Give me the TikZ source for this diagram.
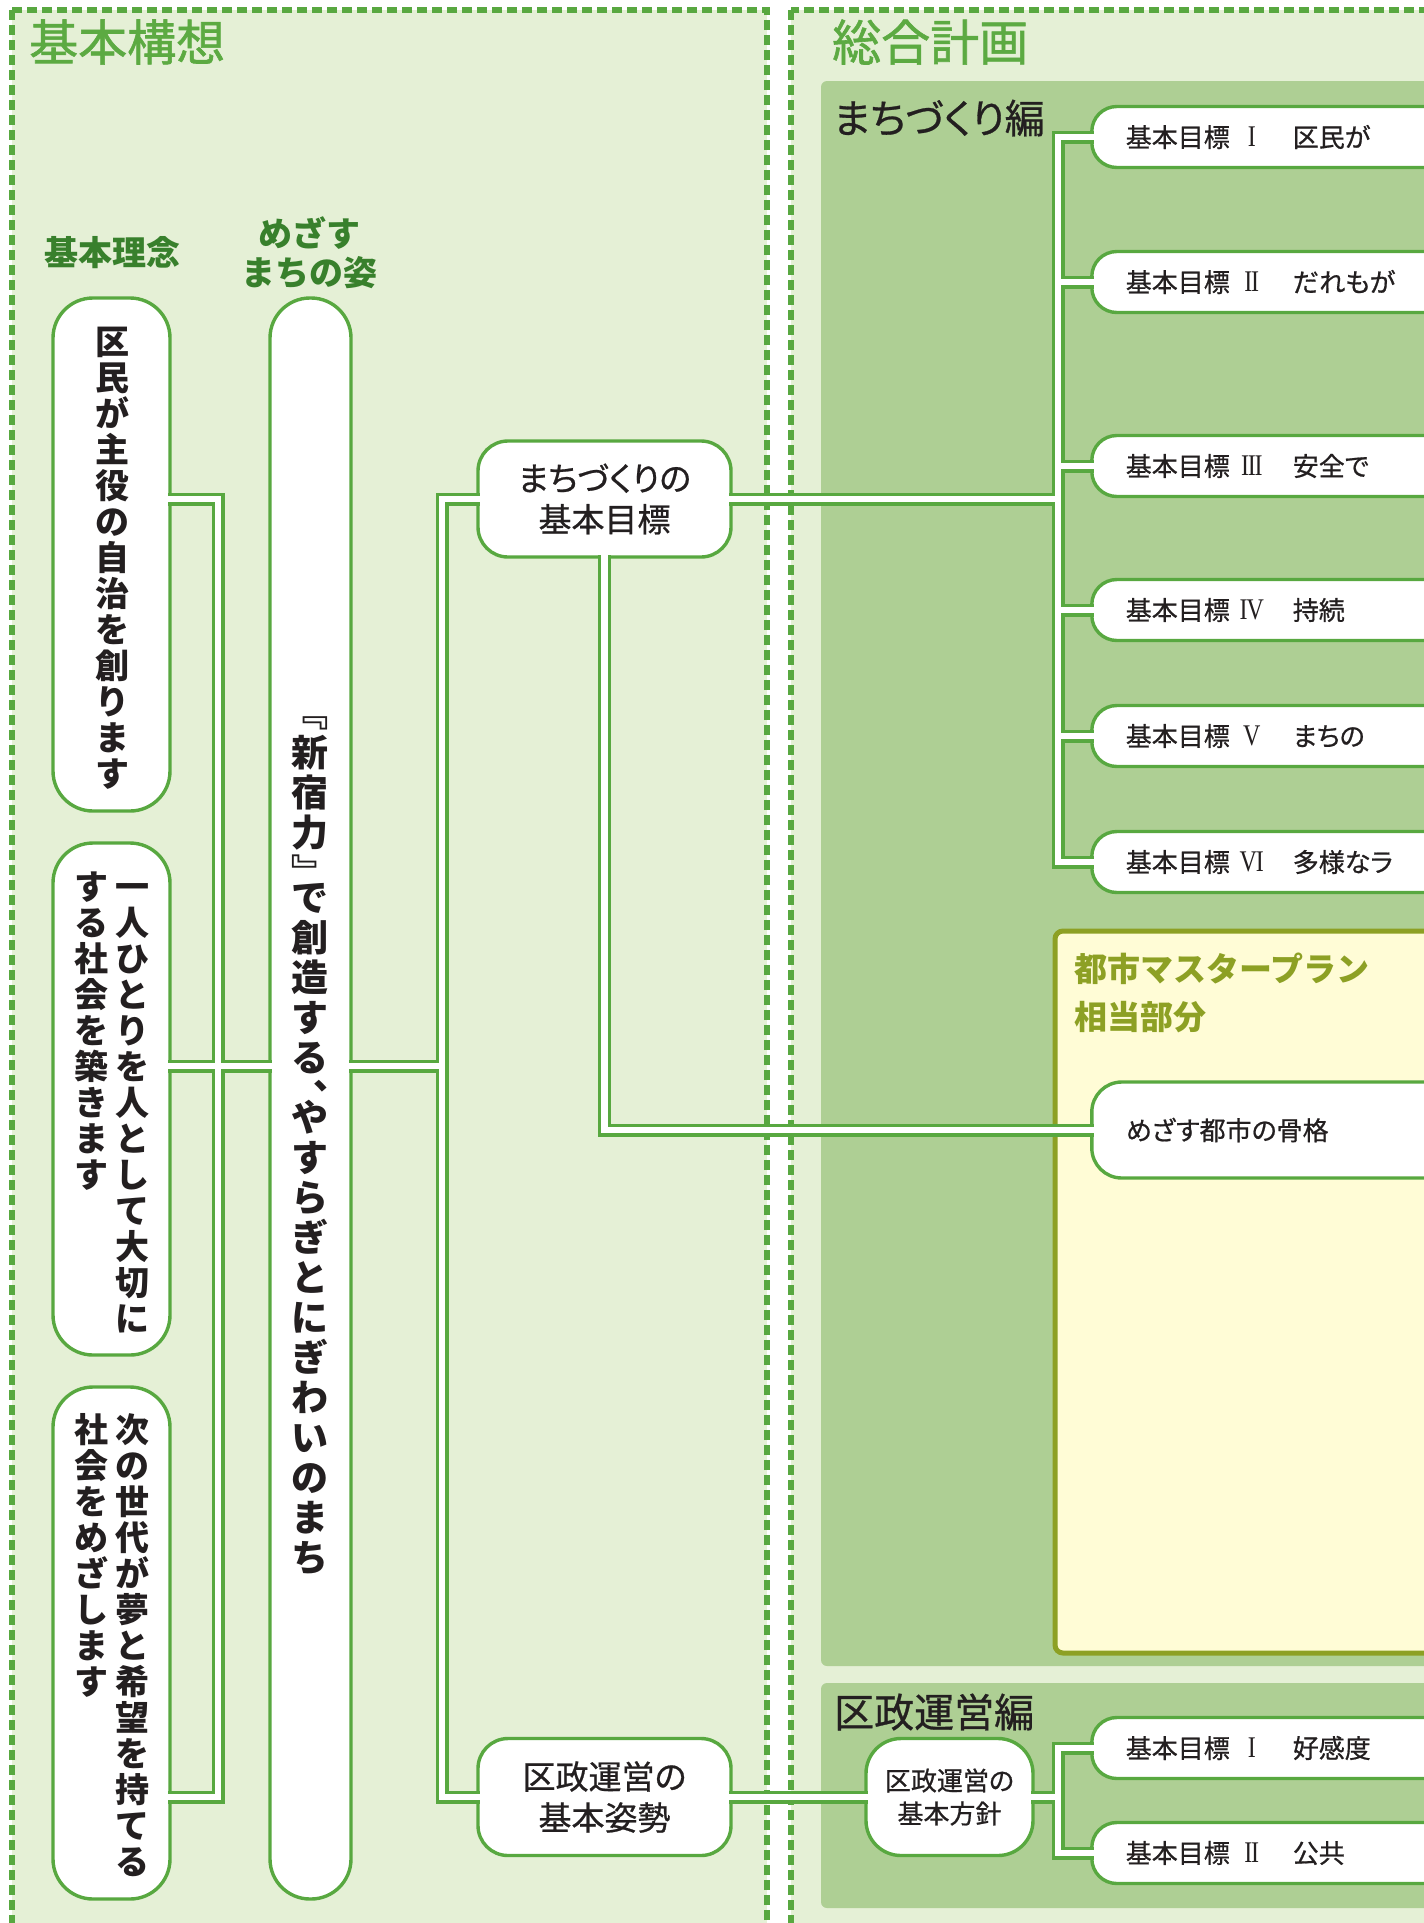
\documentclass[tikz,border=0pt]{standalone}
\usepackage{fontspec}
\usepackage{graphicx}
\setmainfont{Noto Sans CJK JP}
\newfontfamily\jpp[RawFeature=+palt]{Noto Sans CJK JP}
\newfontfamily\jpm[RawFeature=+palt, FakeBold=0.7]{Noto Sans CJK JP}
\newfontfamily\jpt[FakeBold=1.2]{Noto Sans CJK JP}
\newfontfamily\rmn{Liberation Serif}
\usetikzlibrary{calc}
\definecolor{lg}{RGB}{88,168,64}
\definecolor{tg}{RGB}{92,170,66}
\definecolor{dg}{RGB}{56,128,44}
\definecolor{bgL}{RGB}{229,240,214}
\definecolor{bgM}{RGB}{174,207,148}
\definecolor{yel}{RGB}{255,252,214}
\definecolor{olv}{RGB}{141,160,36}
\definecolor{ink}{RGB}{35,31,32}
\newcommand\rnum[1]{{\rmn\fontsize{30}{30}\selectfont\scalebox{0.8}[1]{#1}}}
\newcommand\gtext[2]{\makebox[104pt][l]{基本目標}\makebox[44pt]{\rnum{#1}}\hspace{19pt}#2}
\newcommand\conns[1]{%
  \draw[#1] (r1.east |- mk) -- (busL |- mk) -- (busL |- ks) -- (r3.east |- ks);
  \draw[#1] (r2.east |- row2) -- (sg.west |- row2);
  \draw[#1] (sg.east |- row2) -- (busM |- row2);
  \draw[#1] (mk.west) -- (busM |- mk) -- (busM |- ks) -- (ks.west);
  \draw[#1] (mk.east) -- (busR |- mk);
  \draw[#1] (g1.west) -- (g1.west -| busR) -- (g6.west -| busR) -- (g6.west);
  \draw[#1] (g2.west) -- (g2.west -| busR);
  \draw[#1] (g3.west) -- (g3.west -| busR);
  \draw[#1] (g4.west) -- (g4.west -| busR);
  \draw[#1] (g5.west) -- (g5.west -| busR);
  \draw[#1] (mk.south) -- (mk.south |- kk.west) -- (kk.west);
  \draw[#1] (ks.east) -- (hs.west);
  \draw[#1] (hs.east) -- (busR |- hs);
  \draw[#1] (g7.west) -- (g7.west -| busR) -- (g8.west -| busR) -- (g8.west);
}
\begin{document}
\begin{tikzpicture}[x=1pt,y=-1pt,
  dashbox/.style={draw=lg, line width=5.5pt, dash pattern=on 10pt off 5pt, fill=bgL},
  wbox/.style={draw=lg, line width=3.4pt, fill=white, outer sep=-1.7pt, inner sep=0pt},
  rbox/.style={wbox, rounded corners=40pt},
  cbox/.style={wbox, rounded corners=30pt, align=center, text=ink},
  goal/.style={wbox, rounded corners=25pt, minimum height=61pt, text width=400pt,
    align=left, inner xsep=34pt, anchor=west, text=ink,
    font=\jpm\fontsize{26}{30}\selectfont},
  vcol/.style={align=center, inner sep=0pt, anchor=north, text=ink,
    font=\bfseries\fontsize{34}{36}\selectfont},
  title/.style={anchor=west, inner sep=0pt, text=tg, font=\jpt\fontsize{49}{52}\selectfont},
  sect/.style={anchor=west, inner sep=0pt, text=ink, font=\jpm\fontsize{40}{44}\selectfont},
  lab/.style={inner sep=0pt, text=dg, align=center, font=\bfseries\fontsize{34}{39}\selectfont},
  connG/.style={draw=lg, line width=13pt},
  connW/.style={draw=white, line width=6.4pt}]
\useasboundingbox (0,0) rectangle (1424,1923);
\fill[white] (0,0) rectangle (1424,1923);
% frames
\draw[dashbox] (12,10) rectangle (767,1960);
\draw[dashbox] (791,10) rectangle (1500,1960);
\fill[bgM, rounded corners=6pt] (821,81) rectangle (1500,1666);
\fill[bgM, rounded corners=6pt] (821,1683) rectangle (1500,1908);
\draw[olv, fill=yel, line width=5pt, rounded corners=8pt] (1055,931) rectangle (1500,1653);
% titles
\node[title] (t1) at (29,42) {基本構想};
\node[title] (t2) at (832,42) {総合計画};
\node[sect] (s1) at (833,118) {まちづくり編};
\node[sect] (s2) at (834,1712) {区政運営編};
\node[anchor=north west, inner sep=0pt, text=olv, align=left,
  font=\bfseries\fontsize{33}{48}\selectfont] (tm) at (1074,953) {都市マスタープラン\\相当部分};
\node[lab] (l1) at (112,253) {基本理念};
\node[lab] (l2) at (309,253) {めざす\\まちの姿};
% coordinates of buses and rows
\coordinate (busL) at (218,0);
\coordinate (busM) at (442,0);
\coordinate (busR) at (1058,0);
\coordinate (row2) at (0,1066);
% boxes
\node[rbox, minimum width=117pt, minimum height=513pt] (r1) at (111.5,554.5) {};
\node[rbox, minimum width=117pt, minimum height=512pt] (r2) at (111.5,1099) {};
\node[rbox, minimum width=117pt, minimum height=512pt] (r3) at (111.5,1643) {};
\node[wbox, rounded corners=40pt, minimum width=81pt, minimum height=1601pt] (sg) at (310.5,1098.5) {};
\node[cbox, minimum width=253pt, minimum height=116pt, font=\jpm\fontsize{33}{41}\selectfont] (mk) at (604.5,499) {まちづくりの\\基本目標};
\node[cbox, minimum width=253pt, minimum height=117pt, font=\jpm\fontsize{33}{41}\selectfont] (ks) at (604.5,1797) {区政運営の\\基本姿勢};
\node[cbox, rounded corners=35pt, minimum width=167pt, minimum height=117pt, font=\jpm\fontsize{26}{33}\selectfont] (hs) at (949.5,1797) {区政運営の\\基本方針};
\node[goal] (g1) at (1093.5,137) {\gtext{I}{区民が}};
\node[goal] (g2) at (1093.5,282) {\gtext{I\kern-1.5pt I}{だれもが}};
\node[goal] (g3) at (1093.5,466) {\gtext{I\kern-1.5pt I\kern-1.5pt I}{安全で}};
\node[goal] (g4) at (1093.5,610) {\gtext{I\kern-1.5pt V}{持続}};
\node[goal] (g5) at (1093.5,736) {\gtext{V}{まちの}};
\node[goal] (g6) at (1093.5,862) {\gtext{V\kern-1.5pt I}{多様なラ}};
\node[goal, minimum height=96pt, rounded corners=30pt] (kk) at (1093.5,1130) {めざす都市の骨格};
\node[goal] (g7) at (1093.5,1748) {\gtext{I}{好感度}};
\node[goal] (g8) at (1093.5,1853) {\gtext{I\kern-1.5pt I}{公共}};
% vertical texts
\node[vcol] (r1t) at (112,326) {\vphantom{国}区\\民\\が\\主\\役\\の\\自\\治\\を\\創\\り\\ま\\す};
\node[vcol] (r2a) at (132,871) {\vphantom{国}一\\人\\ひ\\と\\り\\を\\人\\と\\し\\て\\大\\切\\に};
\node[vcol] (r2b) at (91,871) {\vphantom{国}す\\る\\社\\会\\を\\築\\き\\ま\\す};
\node[vcol] (r3a) at (132,1413) {\vphantom{国}次\\の\\世\\代\\が\\夢\\と\\希\\望\\を\\持\\て\\る};
\node[vcol] (r3b) at (91,1413) {\vphantom{国}社\\会\\を\\め\\ざ\\し\\ま\\す};
\node[vcol, font=\bfseries\fontsize{37}{40}\selectfont] (sgt) at (310,696)
  {\vphantom{国}﹃\\新\\宿\\力\\﹄\\[-15pt]で\\創\\造\\す\\る\\︑\\[-20pt]や\\す\\ら\\ぎ\\と\\に\\ぎ\\わ\\い\\の\\ま\\ち};
% connectors (green edge pass, then white core pass)
\conns{connG}
\conns{connW}
\end{tikzpicture}
\end{document}
